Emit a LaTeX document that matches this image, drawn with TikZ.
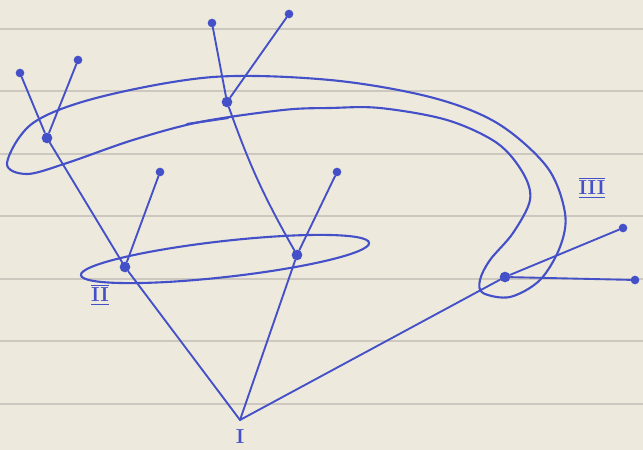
\documentclass[tikz,border=0pt]{standalone}
\usepackage{amsmath}
\usepackage{xcolor}
\usepackage{tikz}
\usetikzlibrary{positioning,calc}

\definecolor{ink}{RGB}{68,80,200}
\definecolor{paper}{RGB}{238,233,221}
\definecolor{ruling}{RGB}{204,200,192}

\begin{document}
\begin{tikzpicture}[
    x=0.3mm, y=-0.3mm,
    leaf/.style={circle,fill=ink,inner sep=0pt,minimum size=2.6mm},
    knot/.style={circle,fill=ink,inner sep=0pt,minimum size=3.2mm},
    branch/.style={ink,line width=1.6pt,line cap=round},
    hull/.style={ink,line width=1.8pt,line cap=round},
    numeral/.style={ink,font=\LARGE\bfseries},
  ]

  % --- lined paper ---
  \fill[paper] (0,0) rectangle (643,450);
  \useasboundingbox (0,0) rectangle (643,450);
  \foreach \y in {29,91,154,216,279,341,404}
    \draw[ruling,line width=1pt] (0,\y) -- (643,\y);

  % --- root ---
  \coordinate (root) at (240,420);
  \node[numeral] (lab1) at (240,437) {I};

  % --- first level ---
  \node[knot] (a) at (125,267) {};
  \node[knot] (b) at (297,255) {};
  \node[knot] (c) at (505,277) {};
  \draw[branch] (root) -- (a);
  \draw[branch] (root) -- (b);
  \draw[branch] (root) -- (c);

  % --- left subtree ---
  \node[knot] (a1) at (47,138) {};
  \node[leaf] (a2) at (160,172) {};
  \node[leaf] (a11) at (20,73) {};
  \node[leaf] (a12) at (78,60) {};
  \draw[branch] (a) -- (a1);
  \draw[branch] (a) -- (a2);
  \draw[branch] (a1) -- (a11);
  \draw[branch] (a1) -- (a12);

  % --- middle subtree ---
  \node[knot] (b1) at (227,102) {};
  \node[leaf] (b2) at (337,172) {};
  \node[leaf] (b11) at (212,23) {};
  \node[leaf] (b12) at (289,14) {};
  \draw[branch] (b) to[bend left=5] (b1);
  \draw[branch] (b) -- (b2);
  \draw[branch] (b1) -- (b11);
  \draw[branch] (b1) -- (b12);

  % --- right subtree ---
  \node[leaf] (c1) at (623,228) {};
  \node[leaf] (c2) at (635,280) {};
  \draw[branch] (c) -- (c1);
  \draw[branch] (c) -- (c2);

  % --- loop II round a and b ---
  \draw[hull,rotate around={6.4:(225,259)}] (225,259) ellipse (145 and 18);
  \node[numeral] (lab2) at (100,295) {$\overline{\underline{\mathbf{II}}}$};

  % --- loop III round a1, b1 and c ---
  \draw[hull] plot[smooth cycle,tension=0.55] coordinates {
    (7,163) (33,123) (100,97) (213,77) (330,80) (430,97) (497,123)
    (547,167) (565,213) (560,247) (540,280) (510,297) (483,293)
    (480,280) (490,260) (513,233) (530,200) (523,173) (497,143)
    (447,120) (380,108) (330,108) (283,110) (200,122) (133,140)
    (67,163) (27,174)};
  \draw[hull] (187,124) -- (228,118);
  \node[numeral] (lab3) at (592,188) {$\overline{\underline{\mathbf{III}}}$};

\end{tikzpicture}
\end{document}
